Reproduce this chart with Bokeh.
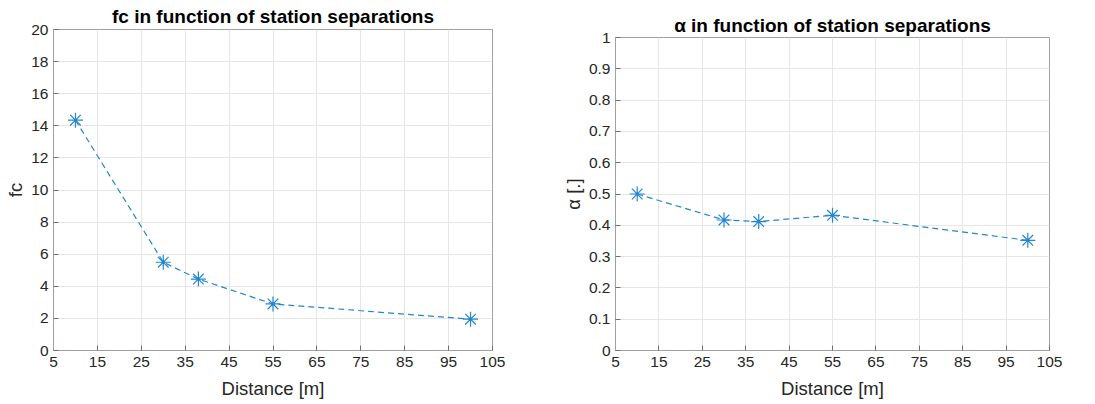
from bokeh.plotting import figure
from bokeh.layouts import row, column
from bokeh.models import FixedTicker, Range1d, CustomJSTickFormatter
from bokeh.embed import file_html
from bokeh.resources import INLINE

distance = [10, 30, 38, 55, 100]
fc_values = [14.35, 5.5, 4.45, 2.9, 1.95]
alpha_values = [0.50, 0.417, 0.412, 0.432, 0.352]
x_ticks = [5, 15, 25, 35, 45, 55, 65, 75, 85, 95, 105]
fc_ticks = [0, 2, 4, 6, 8, 10, 12, 14, 16, 18, 20]
alpha_ticks = [0, 0.1, 0.2, 0.3, 0.4, 0.5, 0.6, 0.7, 0.8, 0.9, 1.0]

BLUE = "#2286d0"
FONT = "Liberation Sans"
TXT = "#262626"

fmt = CustomJSTickFormatter(code="return String(Math.round(tick*10)/10);")


def make(title, ylabel, yvals, yticks, yr, width, left, right, top, standoff):
    p = figure(width=width, height=404, output_backend="svg", toolbar_location=None,
               x_range=Range1d(5, 105), y_range=Range1d(*yr),
               min_border_left=left, min_border_right=right, min_border_top=top,
               min_border_bottom=54)
    p.title.text = title
    p.title.align = "center"
    p.title.text_font = FONT
    p.title.text_font_size = "19px"
    p.title.text_font_style = "bold"
    p.title.text_color = "black"
    p.title.standoff = standoff
    p.title.offset = 0
    p.outline_line_color = "#a0a0a0"
    p.outline_line_width = 1
    p.background_fill_color = "white"
    xa = p.below[0]
    ya = p.left[0]
    for ax in [xa, ya]:
        ax.major_tick_in = 5
        ax.major_tick_out = 0
        ax.minor_tick_in = 0
        ax.minor_tick_out = 0
        ax.axis_line_color = "#a0a0a0"
        ax.major_tick_line_color = "#707070"
        ax.major_label_text_font = FONT
        ax.major_label_text_font_size = "15.5px"
        ax.major_label_text_color = TXT
        ax.axis_label_text_font = FONT
        ax.axis_label_text_font_size = "18.5px"
        ax.axis_label_text_font_style = "normal"
        ax.axis_label_text_color = TXT
        ax.formatter = fmt
    xa.ticker = FixedTicker(ticks=x_ticks)
    ya.ticker = FixedTicker(ticks=yticks)
    xa.axis_label = "Distance [m]"
    xa.axis_label_standoff = 8
    xa.major_label_standoff = 6
    ya.axis_label = ylabel
    ya.axis_label_standoff = 2
    ya.major_label_standoff = 5
    p.xgrid.ticker = FixedTicker(ticks=x_ticks)
    p.ygrid.ticker = FixedTicker(ticks=yticks)
    p.grid.grid_line_color = "#e6e6e6"
    p.grid.grid_line_width = 1

    p.line(distance, yvals, line_color=BLUE, line_width=1.2, line_dash="6 4")
    p.scatter(distance, yvals, marker="asterisk", size=15, line_color=BLUE, line_width=1.2)
    p.scatter(distance, yvals, marker="circle", size=3, fill_color=BLUE, line_color=None)
    return p


p1 = make("fc in function of station separations", "fc", fc_values, fc_ticks, (0, 20),
          545, 53, 53, 29, 5)
p2 = make("α in function of station separations", "α [.]", alpha_values, alpha_ticks, (0, 1),
          550, 70, 46, 37, 3)

layout = row(column(p1), column(p2), spacing=0)
open("out.html", "w").write(file_html(layout, INLINE))
